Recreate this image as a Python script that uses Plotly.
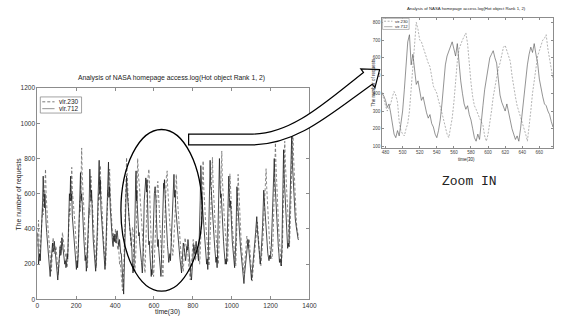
import plotly.graph_objects as go

W, H = 562, 320

# ---------------- data ----------------
time_early = list(range(0, 475, 3))      # 0 .. 474
time_zoom = list(range(476, 677, 2))     # 476 .. 676 (zoomed window)
time_late = list(range(679, 1346, 3))    # 679 .. 1345

vir712_early = [
    380, 330, 200, 230, 260, 220, 300, 360, 420, 560, 700, 540, 520, 600, 460, 430,
    380, 340, 300, 250, 210, 150, 130, 190, 250, 300, 320, 270, 280, 330, 300, 240,
    240, 190, 150, 110, 160, 220, 280, 300, 250, 260, 350, 310, 290, 250, 220, 200,
    220, 180, 200, 260, 230, 380, 480, 600, 560, 700, 560, 600, 470, 430, 380, 330,
    290, 250, 190, 170, 220, 180, 260, 380, 450, 620, 720, 560, 600, 540, 430, 400,
    330, 280, 220, 250, 160, 200, 280, 340, 480, 560, 740, 600, 560, 620, 440, 400,
    330, 290, 240, 190, 160, 220, 300, 420, 560, 650, 790, 600, 680, 520, 470, 420,
    360, 300, 260, 210, 170, 240, 330, 450, 600, 700, 780, 580, 640, 520, 450, 400,
    350, 320, 300, 360, 330, 370, 340, 320, 380, 390, 350, 320, 300, 340, 290, 260,
    260, 200, 90, 40, 30, 160, 300, 450, 600, 700, 620, 560, 520, 470, 420,
]
vir230_early = [
    300, 420, 450, 300, 220, 280, 330, 380, 450, 520, 480, 620, 560, 700, 740, 600,
    560, 480, 420, 380, 330, 290, 250, 200, 160, 220, 280, 350, 300, 260, 300, 280,
    300, 260, 220, 180, 140, 200, 250, 300, 330, 290, 280, 380, 360, 340, 300, 260,
    260, 230, 200, 180, 220, 300, 360, 520, 480, 650, 600, 750, 620, 560, 520, 450,
    450, 400, 330, 280, 220, 200, 260, 330, 450, 560, 500, 700, 860, 700, 620, 560,
    480, 420, 360, 300, 240, 200, 180, 320, 420, 520, 480, 620, 700, 580, 560, 500,
    430, 380, 320, 260, 210, 180, 240, 340, 450, 600, 560, 700, 760, 620, 580, 520,
    440, 400, 320, 260, 200, 190, 270, 380, 500, 620, 580, 680, 740, 600, 520, 480,
    400, 360, 340, 380, 350, 320, 400, 360, 330, 300, 280, 320, 250, 200, 220, 160,
    120, 80, 50, 60, 140, 280, 420, 500, 650, 806, 700, 600, 520, 470, 430,
]
vir712_zoom = [
    400, 385, 360, 320, 340, 290, 230, 170, 150, 190,
    160, 230, 300, 420, 560, 690, 730, 560, 620, 540,
    450, 470, 400, 360, 380, 330, 290, 260, 280, 230,
    210, 170, 150, 190, 250, 340, 450, 560, 610, 640,
    660, 690, 650, 610, 680, 560, 470, 400, 340, 310,
    330, 280, 250, 200, 150, 130, 170, 140, 220, 330,
    420, 490, 540, 600, 620, 640, 600, 570, 480, 390,
    350, 320, 300, 340, 290, 260, 200, 170, 140, 160,
    130, 200, 300, 390, 500, 560, 620, 660, 630, 680,
    620, 570, 480, 420, 380, 340, 330, 300, 280, 240,
    210,
]
vir230_zoom = [
    390, 370, 330, 300, 320, 340, 380, 410, 390, 350,
    240, 190, 170, 160, 200, 230, 300, 420, 520, 680,
    800, 760, 700, 690, 660, 630, 590, 570, 550, 500,
    440, 420, 400, 360, 330, 290, 250, 200, 170, 150,
    210, 260, 350, 470, 580, 650, 680, 700, 720, 740,
    680, 560, 460, 380, 330, 310, 280, 260, 240, 220,
    160, 130, 170, 230, 300, 380, 440, 500, 540, 570,
    620, 660, 670, 640, 610, 580, 500, 430, 380, 330,
    300, 270, 240, 200, 170, 130, 200, 300, 400, 480,
    550, 610, 640, 670, 700, 710, 730, 650, 600, 540,
    480,
]
vir712_late = [
    230, 260, 220, 300, 380, 450, 560, 620, 710, 580, 620, 520, 470, 420, 380, 350,
    300, 280, 240, 200, 160, 150, 210, 250, 320, 300, 280, 250, 220, 260, 300, 280,
    340, 300, 270, 220, 180, 140, 110, 160, 230, 280, 310, 290, 260, 300, 330, 290,
    280, 250, 220, 300, 400, 560, 760, 620, 600, 520, 470, 430, 360, 320, 270, 240,
    200, 230, 170, 280, 420, 600, 790, 640, 620, 560, 480, 430, 380, 340, 290, 260,
    210, 240, 180, 300, 450, 620, 800, 640, 580, 600, 500, 440, 380, 330, 280, 250,
    200, 230, 200, 300, 420, 560, 700, 580, 520, 560, 430, 380, 330, 290, 250, 220,
    180, 250, 320, 480, 640, 560, 520, 440, 400, 350, 300, 260, 220, 180, 150, 120,
    90, 140, 180, 230, 260, 290, 300, 340, 300, 260, 230, 180, 140, 110, 150, 200,
    200, 250, 300, 340, 380, 420, 470, 400, 360, 310, 260, 230, 200, 240, 280, 350,
    420, 520, 620, 560, 500, 430, 380, 330, 300, 260, 240, 220, 250, 230, 260, 300,
    400, 480, 600, 700, 800, 680, 600, 520, 460, 400, 350, 300, 260, 210, 230, 190,
    190, 280, 420, 620, 850, 700, 640, 540, 470, 400, 340, 290, 320, 300, 420, 560,
    700, 820, 940, 780, 700, 620, 560, 500, 460, 430, 400, 380, 360, 340, 340,
]
vir230_late = [
    440, 420, 380, 340, 300, 260, 250, 290, 330, 420, 500, 600, 710, 620, 560, 500,
    430, 380, 340, 300, 260, 230, 200, 170, 160, 220, 280, 350, 320, 300, 270, 250,
    250, 200, 160, 130, 110, 160, 220, 260, 300, 340, 300, 270, 240, 220, 260, 300,
    300, 280, 260, 230, 200, 260, 330, 450, 560, 680, 787, 640, 600, 520, 450, 400,
    340, 300, 250, 220, 190, 250, 330, 450, 600, 700, 806, 660, 620, 540, 460, 400,
    350, 310, 260, 230, 200, 260, 360, 480, 620, 740, 843, 680, 640, 560, 480, 420,
    360, 320, 270, 240, 210, 300, 420, 560, 713, 620, 560, 480, 420, 380, 320, 280,
    240, 210, 190, 280, 400, 560, 710, 620, 540, 470, 400, 350, 300, 260, 220, 190,
    150, 190, 230, 280, 320, 360, 330, 290, 310, 343, 300, 260, 200, 150, 104, 140,
    180, 220, 260, 300, 330, 370, 400, 440, 390, 330, 290, 240, 210, 190, 230, 260,
    280, 360, 450, 520, 600, 680, 742, 640, 560, 500, 420, 370, 320, 280, 250, 240,
    230, 260, 350, 480, 620, 760, 889, 760, 700, 600, 520, 450, 380, 320, 260, 220,
    190, 240, 300, 450, 600, 750, 898, 780, 700, 600, 520, 450, 380, 330, 300, 380,
    450, 600, 760, 880, 1000, 820, 720, 620, 540, 480, 440, 400, 380, 360, 350,
]

main_xticks = [0, 200, 400, 600, 800, 1000, 1200, 1400]
main_yticks = [0, 200, 400, 600, 800, 1000, 1200]
zoom_xticks = [480, 500, 520, 540, 560, 580, 600, 620, 640, 660]
zoom_yticks = [100, 200, 300, 400, 500, 600, 700, 800]

title_text = "Analysis of NASA homepage access.log(Hot object Rank 1, 2)"

time = time_early + time_zoom + time_late
vir712 = vir712_early + vir712_zoom + vir712_late
vir230 = vir230_early + vir230_zoom + vir230_late
n = min(len(time), len(vir712), len(vir230))
time, vir712, vir230 = time[:n], vir712[:n], vir230[:n]


def px(x):
    return x / W


def py(y):
    return 1 - y / H


def P(x, y):
    return f"{px(x):.5f},{py(y):.5f}"


DASH_COL = "#6c6c6c"
SOLID_COL = "#1e1e1e"
FONT = "Liberation Sans"

fig = go.Figure()
for ax, ay, dsh, dcol, scol, w in [("x", "y", "3px,2px", DASH_COL, SOLID_COL, 0.8),
                                    ("x2", "y2", "2px,1.5px", "#8a8a8a", "#5a5a5a", 0.65)]:
    fig.add_trace(go.Scatter(x=time, y=vir230, mode="lines", name="vir.230",
                             line=dict(color=dcol, width=w, dash=dsh),
                             xaxis=ax, yaxis=ay, showlegend=False, hoverinfo="skip"))
    fig.add_trace(go.Scatter(x=time, y=vir712, mode="lines", name="vir.712",
                             line=dict(color=scol, width=w),
                             xaxis=ax, yaxis=ay, showlegend=False, hoverinfo="skip"))


def axis(**kw):
    d = dict(showline=True, linecolor="#8c8c8c", linewidth=1, mirror="ticks",
             ticks="inside", tickcolor="#8c8c8c", tickwidth=1, showgrid=False,
             zeroline=False, fixedrange=True)
    d.update(kw)
    return d


fig.update_layout(
    width=W, height=H, margin=dict(l=0, r=0, t=0, b=0),
    paper_bgcolor="white", plot_bgcolor="white", showlegend=False,
    xaxis=axis(domain=[px(36), px(313)], range=[0, 1400], tickvals=main_xticks,
               ticklen=3, anchor="y",
               tickfont=dict(family=FONT, size=6.5, color="#333")),
    yaxis=axis(domain=[py(302), py(86)], range=[0, 1200], tickvals=main_yticks,
               ticklen=3, anchor="x",
               tickfont=dict(family=FONT, size=6.5, color="#333")),
    xaxis2=axis(domain=[px(387), px(561)], range=[476, 676], tickvals=zoom_xticks,
                ticklen=2, anchor="y2",
                tickfont=dict(family=FONT, size=4.5, color="#444")),
    yaxis2=axis(domain=[py(147), py(14)], range=[93, 826], tickvals=zoom_yticks,
                ticklen=2, anchor="x2",
                tickfont=dict(family=FONT, size=4.5, color="#444")),
)

shapes = []
# ellipse around the zoomed region (data coords of main axes)
shapes.append(dict(type="circle", xref="x", yref="y", x0=430, x1=848, y0=47, y1=965,
                   line=dict(color="black", width=1.3), layer="above"))
# hollow arrow from ellipse to the zoom panel
arrow_path = (
    f"M{P(190,133)} L{P(255,133)} C{P(295,133)} {P(330,100)} {P(368,70)} "
    f"L{P(365.3,66.4)} L{P(384.5,67)} L{P(379.7,85.6)} L{P(377,82)} "
    f"C{P(335,112)} {P(300,144)} {P(255,144)} L{P(190,144)} Z"
)
shapes.append(dict(type="path", xref="paper", yref="paper", path=arrow_path,
                   fillcolor="white", line=dict(color="black", width=1.2), layer="above"))
# main legend
shapes.append(dict(type="rect", xref="paper", yref="paper",
                   x0=px(39), x1=px(81), y0=py(111.5), y1=py(95),
                   fillcolor="white", line=dict(color="#8c8c8c", width=0.8), layer="above"))
shapes.append(dict(type="line", xref="paper", yref="paper", x0=px(41), x1=px(53.5),
                   y0=py(100), y1=py(100), line=dict(color=DASH_COL, width=0.9, dash="3px,2px"),
                   layer="above"))
shapes.append(dict(type="line", xref="paper", yref="paper", x0=px(41), x1=px(53.5),
                   y0=py(107), y1=py(107), line=dict(color="#8a8a8a", width=0.9),
                   layer="above"))
# zoom legend
shapes.append(dict(type="rect", xref="paper", yref="paper",
                   x0=px(387.5), x1=px(414.5), y0=py(26), y1=py(14.7),
                   fillcolor="white", line=dict(color="#8c8c8c", width=0.6), layer="above"))
shapes.append(dict(type="line", xref="paper", yref="paper", x0=px(389), x1=px(397.5),
                   y0=py(17.6), y1=py(17.6), line=dict(color="#8a8a8a", width=0.7, dash="2px,1.5px"),
                   layer="above"))
shapes.append(dict(type="line", xref="paper", yref="paper", x0=px(389), x1=px(397.5),
                   y0=py(23.2), y1=py(23.2), line=dict(color="#8a8a8a", width=0.7),
                   layer="above"))
fig.update_layout(shapes=shapes)


def ann(x, y, text, size, angle=0, xanchor="center", family=FONT, color="#222"):
    return dict(x=px(x), y=py(y), xref="paper", yref="paper", text=text, showarrow=False,
                textangle=angle, xanchor=xanchor, yanchor="middle",
                font=dict(family=family, size=size, color=color))


annotations = [
    ann(173, 76, title_text, 6.8),
    ann(17, 194, "The number of requests", 6.8, angle=-90),
    ann(168, 315, "time(30)", 6.8),
    ann(56, 100, "vir.230", 6.5, xanchor="left"),
    ann(56, 107.3, "vir.712", 6.5, xanchor="left"),
    ann(473, 4.5, title_text, 4.3),
    ann(378, 80, "The number of requests", 4.5, angle=-90),
    ann(473, 158.5, "time(30)", 4.5),
    ann(398.5, 17.6, "vir.230", 4.3, xanchor="left"),
    ann(398.5, 23.2, "vir.712", 4.3, xanchor="left"),
    ann(476, 181, "Zoom IN", 13, family="Liberation Mono", color="#222"),
]
fig.update_layout(annotations=annotations)

fig.write_html("out.html")
